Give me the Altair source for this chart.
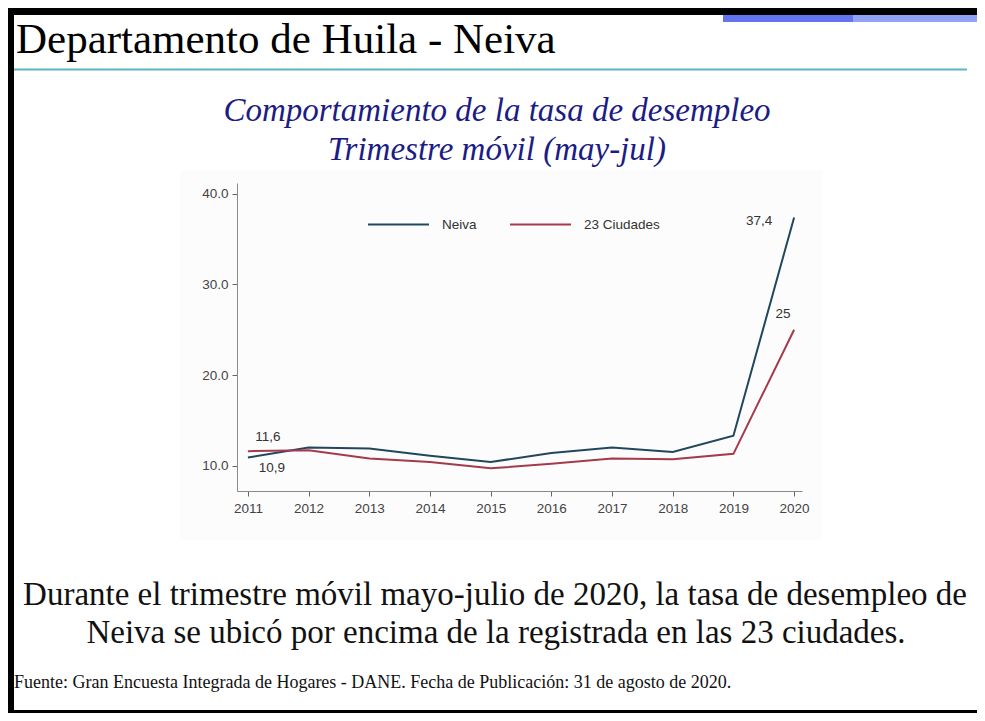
import altair as alt
import pandas as pd

# ---- data ----
years = [2011, 2012, 2013, 2014, 2015, 2016, 2017, 2018, 2019, 2020]
neiva = [10.9, 12.0, 11.9, 11.1, 10.4, 11.4, 12.0, 11.5, 13.3, 37.4]
ciudades = [11.6, 11.7, 10.8, 10.4, 9.7, 10.2, 10.8, 10.7, 11.3, 25.0]
series_names = ["Neiva", "23 Ciudades"]
series_colors = ["#21475f", "#a43a4b"]
y_ticks = [10, 20, 30, 40]

slide_title = "Departamento de Huila - Neiva"
chart_title = ["Comportamiento de la tasa de desempleo", "Trimestre móvil (may-jul)"]
body_text = [
    "Durante el trimestre móvil mayo-julio de 2020, la tasa de desempleo de",
    "Neiva se ubicó por encima de la registrada en las 23 ciudades.",
]
source_text = ("Fuente: Gran Encuesta Integrada de Hogares - DANE. "
               "Fecha de Publicación: 31 de agosto de 2020.")

rows = []
for name, vals in zip(series_names, [neiva, ciudades]):
    for yr, v in zip(years, vals):
        rows.append({"year": yr, "serie": name, "value": v,
                     "label": f"{v:g}".replace(".", ",")})
df = pd.DataFrame(rows)

W, H = 565, 308
one = pd.DataFrame({"k": [0]})

axis_common = dict(title=None, grid=False, domainColor="#8a8a8a", tickColor="#666666",
                   tickSize=5, labelFontSize=13.5, labelColor="#444444",
                   labelFont="Liberation Sans", zindex=1)

x_enc = alt.X("year:Q", scale=alt.Scale(domain=[2010.82, 2020.13], nice=False, zero=False),
              axis=alt.Axis(values=years, format="d", labelPadding=5, labelFlush=False,
                            **axis_common))
y_enc = alt.Y("value:Q", scale=alt.Scale(domain=[7.2, 41.2], nice=False, zero=False),
              axis=alt.Axis(values=y_ticks, format=".1f", labelPadding=4, **axis_common))

base = alt.Chart(df)

lines = base.mark_line(strokeWidth=2).encode(
    x=x_enc, y=y_enc,
    color=alt.Color("serie:N",
                    scale=alt.Scale(domain=series_names, range=series_colors),
                    sort=series_names,
                    legend=alt.Legend(title=None, orient="none", legendX=130, legendY=10,
                                      direction="horizontal", symbolType="stroke",
                                      symbolSize=3721, symbolStrokeWidth=2,
                                      labelFont="Liberation Sans", labelFontSize=13.5,
                                      labelColor="#333333", labelOffset=12,
                                      columnPadding=29, zindex=1)),
    detail="serie:N",
)

def lab(yr, name, dx, dy):
    return base.transform_filter(
        (alt.datum.year == yr) & (alt.datum.serie == name)
    ).mark_text(dx=dx, dy=dy, font="Liberation Sans", fontSize=13.5,
                color="#333333").encode(x="year:Q", y="value:Q", text="label:N")

labels = (lab(2011, "23 Ciudades", 20, -14) + lab(2011, "Neiva", 24, 11)
          + lab(2020, "Neiva", -35, 4) + lab(2020, "23 Ciudades", -11, -16))

def rect(x1, x2, y1, y2, color):
    return alt.Chart(one).mark_rect(color=color, strokeWidth=0).encode(
        x=alt.value(x1), x2=alt.value(x2), y=alt.value(y1), y2=alt.value(y2))

def text(t, x, y, **kw):
    return alt.Chart(one).mark_text(**kw).encode(
        x=alt.value(x), y=alt.value(y), text=alt.value(t))

RIGHT = 740   # right edge of the drawable page, plot coordinates
BOTTOM = 530  # bottom edge of the drawable page, plot coordinates

deco = (
    rect(-57, 585, -13, 357, "#fcfcfc")
    + rect(-229, RIGHT, -175, -168, "#000000")
    + rect(-229, -223, -175, BOTTOM, "#000000")
    + rect(-229, RIGHT, BOTTOM - 3, BOTTOM, "#000000")
    + rect(486, 616, -168, -161, "#6275ee")
    + rect(616, RIGHT, -168, -161, "#90a2f4")
    + rect(-223, 738, -114.5, -112.5, "#5db5c6")
    + text(slide_title, -221, -130, font="Liberation Serif", fontSize=43,
           color="#000000", align="left", baseline="alphabetic")
    + text(chart_title[0], 260, -62, font="Liberation Serif", fontSize=33,
           fontStyle="italic", color="#1c1c84", align="center", baseline="alphabetic")
    + text(chart_title[1], 260, -23, font="Liberation Serif", fontSize=33,
           fontStyle="italic", color="#1c1c84", align="center", baseline="alphabetic")
    + text(body_text[0], 258, 422, font="Liberation Serif", fontSize=33,
           color="#111111", align="center", baseline="alphabetic")
    + text(body_text[1], 259, 460, font="Liberation Serif", fontSize=33,
           color="#111111", align="center", baseline="alphabetic")
    + text(source_text, -223, 505, font="Liberation Serif", fontSize=18,
           color="#111111", align="left", baseline="alphabetic")
)

# white cover for the right edge of the page, below the top bars
cover = rect(RIGHT - 10, RIGHT, -161, BOTTOM - 3, "#ffffff")

chart = alt.layer(deco, lines, labels, cover).properties(
    width=W, height=H,
    padding={"left": 229, "top": 175, "right": RIGHT - W, "bottom": BOTTOM - H},
    autosize=alt.AutoSizeParams(type="none"),
    background="#ffffff",
).configure_view(stroke=None)

chart.save("out.html", embed_options={"renderer": "svg", "actions": False})
